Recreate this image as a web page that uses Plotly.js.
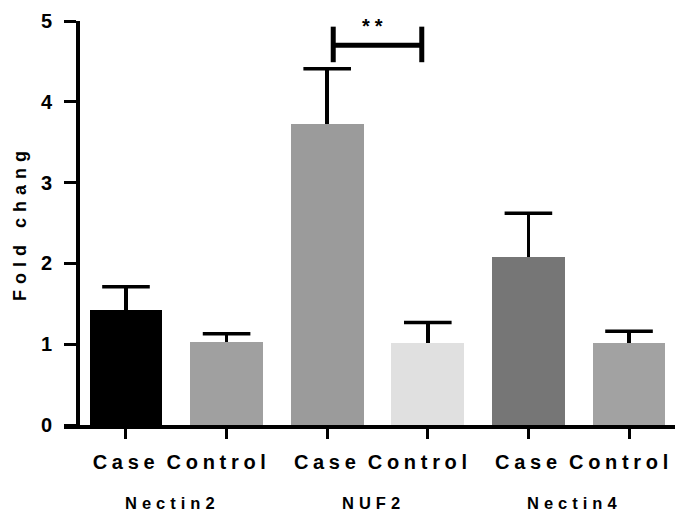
<!DOCTYPE html>
<html>
<head>
<meta charset="utf-8">
<script src="https://cdn.plot.ly/plotly-3.0.1.min.js"></script>
<style>
  html, body { margin: 0; padding: 0; background: #fff; }
  #chart { width: 675px; height: 512px; }
  .xtick text { letter-spacing: 4.7px; }
  .g-ytitle text { letter-spacing: 6px; }
  .annotation-text { letter-spacing: 5px; }
</style>
</head>
<body>
<div id="chart"></div>
<script>
// ---- data ----
const genes = ["Nectin2", "NUF2", "Nectin4"];
const groups = ["Case", "Control"];
const tickLabels = ["Case", "Control", "Case", "Control", "Case", "Control"];
const foldChange = [1.42, 1.03, 3.73, 1.02, 2.08, 1.02];
const errorUpper = [0.29, 0.10, 0.68, 0.25, 0.54, 0.14];
const barColors = ["#000000", "#a0a0a0", "#9b9b9b", "#e0e0e0", "#767676", "#a2a2a2"];
const significance = { from: 2, to: 3, label: "**" };

const FONT = 'Arial, "Liberation Sans", sans-serif';
const xIdx = foldChange.map((_, i) => i);
const errTop = foldChange.map((v, i) => v + errorUpper[i]);

const bars = {
  type: "bar",
  x: xIdx,
  y: foldChange,
  width: 0.725,
  marker: { color: barColors, line: { width: 0 } },
  error_y: {
    type: "data",
    symmetric: false,
    array: errorUpper,
    arrayminus: errorUpper.map(() => 0),
    color: "#000",
    thickness: 3.5,
    width: 0
  },
  hoverinfo: "skip"
};

// caps only on the upper end of the error bars
const caps = {
  type: "scatter",
  mode: "markers",
  x: xIdx,
  y: errTop,
  marker: { symbol: "line-ew-open", size: 34, color: "#000", line: { color: "#000", width: 3.5 } },
  hoverinfo: "skip",
  cliponaxis: false
};

// significance bracket
const bx0 = significance.from + 0.06, bx1 = significance.to - 0.06;
const by = 4.70, byLo = 4.49, byHi = 4.93;
const lineStyle = { color: "#000", width: 5 };
const shapes = [
  { type: "line", xref: "x", yref: "y", x0: bx0, x1: bx1, y0: by, y1: by, line: lineStyle },
  { type: "line", xref: "x", yref: "y", x0: bx0, x1: bx0, y0: byLo, y1: byHi, line: lineStyle },
  { type: "line", xref: "x", yref: "y", x0: bx1, x1: bx1, y0: byLo, y1: byHi, line: lineStyle }
];

const annotations = genes.map((g, i) => ({
  text: "<b>" + g + "</b>",
  xref: "x", yref: "paper",
  x: i * groups.length + 0.5, y: -0.193,
  xshift: -4,
  showarrow: false,
  font: { family: FONT, size: 16.5, color: "#000" },
  xanchor: "center", yanchor: "middle"
}));
annotations.push({
  text: "<b>" + significance.label + "</b>",
  xref: "x", yref: "y",
  x: (significance.from + significance.to) / 2 - 0.02, y: 4.99,
  showarrow: false,
  font: { family: FONT, size: 20, color: "#000" },
  xanchor: "center", yanchor: "middle",
  yshift: -4
});

const layout = {
  width: 675, height: 512,
  margin: { l: 64, r: 0, t: 21, b: 87, pad: 0 },
  paper_bgcolor: "#fff", plot_bgcolor: "#fff",
  showlegend: false,
  font: { family: FONT, color: "#000" },
  bargap: 0,
  xaxis: {
    range: [-0.616, 5.457],
    tickmode: "array",
    tickvals: xIdx,
    ticktext: tickLabels.map(t => "<b>" + t + "</b>"),
    tickfont: { family: FONT, size: 20, color: "#000" },
    ticks: "outside", ticklen: 10, tickwidth: 3, tickcolor: "#000",
    ticklabelstandoff: 6,
    ticklabeloverflow: "allow",
    showline: true, linecolor: "#000", linewidth: 3.5,
    showgrid: false, zeroline: false, fixedrange: true
  },
  yaxis: {
    range: [0, 5],
    tickmode: "array",
    tickvals: [0, 1, 2, 3, 4, 5],
    ticktext: ["0", "1", "2", "3", "4", "5"].map(t => "<b>" + t + "</b>"),
    tickfont: { family: FONT, size: 20, color: "#000" },
    ticks: "outside", ticklen: 12, tickwidth: 3, tickcolor: "#000",
    ticklabelstandoff: 8,
    anchor: "free", position: 0.0213,
    showline: true, linecolor: "#000", linewidth: 3.5,
    showgrid: false, zeroline: false, fixedrange: true,
    title: { text: "<b>Fold chang</b>", font: { family: FONT, size: 18, color: "#000" }, standoff: 8 }
  },
  shapes: shapes,
  annotations: annotations
};

Plotly.newPlot("chart", [bars, caps], layout, { displayModeBar: false, staticPlot: true }).then(() => {
  // in the reference the "Control" labels sit slightly left of their ticks
  document.querySelectorAll("#chart .xtick text").forEach(t => {
    if (t.textContent.trim() === "Control") t.setAttribute("dx", "-8");
  });
});
</script>
</body>
</html>
